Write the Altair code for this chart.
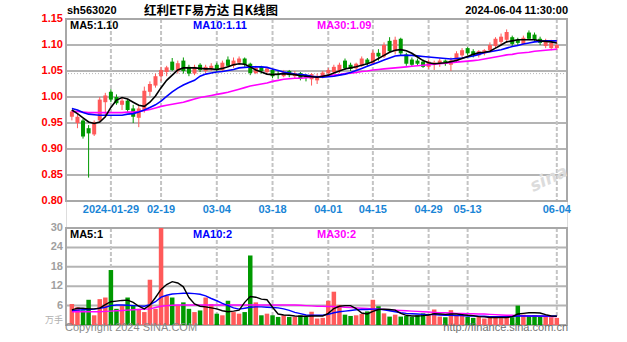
import altair as alt
import pandas as pd

# ---------------- data ----------------
dates = [
    "2024-01-18", "2024-01-19", "2024-01-22", "2024-01-23", "2024-01-24", "2024-01-25", "2024-01-26",
    "2024-01-29", "2024-01-30", "2024-01-31", "2024-02-01", "2024-02-02", "2024-02-05", "2024-02-06",
    "2024-02-07", "2024-02-08", "2024-02-19", "2024-02-20", "2024-02-21", "2024-02-22", "2024-02-23",
    "2024-02-26", "2024-02-27", "2024-02-28", "2024-02-29", "2024-03-01", "2024-03-04", "2024-03-05",
    "2024-03-06", "2024-03-07", "2024-03-08", "2024-03-11", "2024-03-12", "2024-03-13", "2024-03-14",
    "2024-03-15", "2024-03-18", "2024-03-19", "2024-03-20", "2024-03-21", "2024-03-22", "2024-03-25",
    "2024-03-26", "2024-03-27", "2024-03-28", "2024-03-29", "2024-04-01", "2024-04-02", "2024-04-03",
    "2024-04-08", "2024-04-09", "2024-04-10", "2024-04-11", "2024-04-12", "2024-04-15", "2024-04-16",
    "2024-04-17", "2024-04-18", "2024-04-19", "2024-04-22", "2024-04-23", "2024-04-24", "2024-04-25",
    "2024-04-26", "2024-04-29", "2024-04-30", "2024-05-06", "2024-05-07", "2024-05-08", "2024-05-09",
    "2024-05-10", "2024-05-13", "2024-05-14", "2024-05-15", "2024-05-16", "2024-05-17", "2024-05-20",
    "2024-05-21", "2024-05-22", "2024-05-23", "2024-05-24", "2024-05-27", "2024-05-28", "2024-05-29",
    "2024-05-30", "2024-05-31", "2024-06-03", "2024-06-04",
]

opens = [0.962, 0.950, 0.955, 0.940, 0.928, 0.955, 0.990, 1.010, 1.000, 0.985, 0.993, 0.978, 0.960, 0.975,
         1.010, 1.022, 1.040, 1.048, 1.068, 1.050, 1.070, 1.058, 1.045, 1.062, 1.050, 1.055, 1.062, 1.052,
         1.072, 1.060, 1.066, 1.074, 1.064, 1.046, 1.058, 1.048, 1.052, 1.044, 1.040, 1.050, 1.040, 1.046,
         1.040, 1.034, 1.032, 1.040, 1.046, 1.048, 1.050, 1.070, 1.062, 1.055, 1.060, 1.072, 1.064, 1.085,
         1.078, 1.108, 1.088, 1.112, 1.082, 1.072, 1.070, 1.068, 1.058, 1.062, 1.064, 1.070, 1.062, 1.070,
         1.080, 1.094, 1.088, 1.080, 1.084, 1.090, 1.098, 1.106, 1.110, 1.115, 1.110, 1.102, 1.124, 1.120,
         1.112, 1.098, 1.094, 1.094]
highs = [0.975, 0.968, 0.958, 0.946, 0.955, 1.000, 1.008, 1.015, 1.005, 0.998, 0.996, 0.985, 0.985, 1.020,
         1.030, 1.045, 1.058, 1.060, 1.075, 1.070, 1.076, 1.062, 1.062, 1.065, 1.062, 1.065, 1.066, 1.070,
         1.078, 1.076, 1.078, 1.076, 1.066, 1.060, 1.060, 1.058, 1.054, 1.050, 1.052, 1.052, 1.050, 1.048,
         1.044, 1.046, 1.045, 1.050, 1.056, 1.062, 1.066, 1.074, 1.066, 1.066, 1.078, 1.075, 1.090, 1.092,
         1.105, 1.115, 1.116, 1.114, 1.085, 1.076, 1.074, 1.072, 1.072, 1.070, 1.074, 1.072, 1.076, 1.088,
         1.094, 1.096, 1.092, 1.090, 1.092, 1.105, 1.115, 1.122, 1.130, 1.118, 1.114, 1.118, 1.128, 1.124,
         1.116, 1.112, 1.110, 1.108]
lows = [0.955, 0.940, 0.920, 0.845, 0.925, 0.952, 0.965, 0.990, 0.985, 0.975, 0.970, 0.950, 0.942, 0.970,
        1.002, 1.018, 1.030, 1.040, 1.050, 1.045, 1.045, 1.040, 1.042, 1.048, 1.046, 1.050, 1.048, 1.050,
        1.058, 1.056, 1.062, 1.058, 1.042, 1.044, 1.045, 1.044, 1.036, 1.035, 1.038, 1.038, 1.035, 1.032,
        1.030, 1.022, 1.025, 1.036, 1.042, 1.045, 1.046, 1.052, 1.050, 1.052, 1.058, 1.060, 1.062, 1.070,
        1.075, 1.085, 1.082, 1.080, 1.060, 1.058, 1.060, 1.056, 1.054, 1.052, 1.058, 1.060, 1.050, 1.066,
        1.076, 1.080, 1.076, 1.076, 1.080, 1.086, 1.094, 1.100, 1.104, 1.098, 1.100, 1.100, 1.110, 1.108,
        1.100, 1.094, 1.090, 1.090]
closes = [0.972, 0.962, 0.924, 0.930, 0.952, 0.995, 1.003, 0.995, 0.988, 0.993, 0.975, 0.962, 0.978, 1.012,
          1.025, 1.040, 1.052, 1.057, 1.052, 1.065, 1.050, 1.045, 1.058, 1.052, 1.058, 1.060, 1.052, 1.066,
          1.060, 1.070, 1.074, 1.062, 1.046, 1.056, 1.050, 1.055, 1.040, 1.042, 1.048, 1.042, 1.046, 1.036,
          1.038, 1.044, 1.040, 1.047, 1.052, 1.058, 1.062, 1.055, 1.054, 1.064, 1.074, 1.064, 1.085, 1.078,
          1.100, 1.088, 1.110, 1.084, 1.064, 1.062, 1.064, 1.058, 1.068, 1.066, 1.070, 1.064, 1.070, 1.084,
          1.090, 1.084, 1.080, 1.088, 1.090, 1.100, 1.112, 1.116, 1.125, 1.102, 1.104, 1.114, 1.112, 1.110,
          1.104, 1.106, 1.104, 1.100]

ma5 = [0.975, 0.968, 0.960, 0.952, 0.949, 0.952, 0.962, 0.980, 0.994, 0.999, 0.996, 0.990, 0.984, 0.982,
       0.990, 1.002, 1.018, 1.032, 1.042, 1.052, 1.056, 1.056, 1.056, 1.055, 1.054, 1.054, 1.053, 1.055,
       1.058, 1.062, 1.064, 1.063, 1.058, 1.052, 1.048, 1.044, 1.043, 1.044, 1.045, 1.044, 1.043, 1.041,
       1.040, 1.039, 1.038, 1.040, 1.042, 1.046, 1.050, 1.054, 1.056, 1.058, 1.061, 1.064, 1.068, 1.074,
       1.080, 1.086, 1.090, 1.091, 1.089, 1.084, 1.077, 1.070, 1.066, 1.064, 1.065, 1.066, 1.068, 1.070,
       1.074, 1.078, 1.082, 1.085, 1.086, 1.088, 1.094, 1.100, 1.106, 1.108, 1.110, 1.110, 1.110, 1.110,
       1.108, 1.107, 1.106, 1.104]
ma10 = [0.978, 0.975, 0.970, 0.967, 0.966, 0.965, 0.965, 0.965, 0.965, 0.965, 0.967, 0.968, 0.971, 0.975,
        0.980, 0.985, 0.992, 1.001, 1.010, 1.017, 1.023, 1.028, 1.032, 1.040, 1.044, 1.046, 1.048, 1.049,
        1.051, 1.053, 1.056, 1.057, 1.058, 1.058, 1.058, 1.057, 1.054, 1.051, 1.048, 1.046, 1.044, 1.043,
        1.042, 1.040, 1.039, 1.038, 1.039, 1.040, 1.042, 1.044, 1.047, 1.051, 1.055, 1.059, 1.063, 1.067,
        1.071, 1.075, 1.079, 1.080, 1.080, 1.080, 1.079, 1.078, 1.077, 1.076, 1.075, 1.074, 1.073, 1.074,
        1.075, 1.077, 1.079, 1.082, 1.085, 1.087, 1.089, 1.091, 1.094, 1.097, 1.099, 1.102, 1.104, 1.106,
        1.107, 1.108, 1.108, 1.108]
ma30 = [0.972, 0.972, 0.971, 0.970, 0.970, 0.970, 0.970, 0.970, 0.970, 0.970, 0.971, 0.971, 0.972, 0.974,
        0.976, 0.979, 0.982, 0.984, 0.986, 0.988, 0.990, 0.993, 0.996, 0.999, 1.001, 1.003, 1.005, 1.007,
        1.009, 1.012, 1.015, 1.018, 1.021, 1.023, 1.025, 1.027, 1.030, 1.032, 1.034, 1.035, 1.036, 1.036,
        1.037, 1.038, 1.039, 1.040, 1.041, 1.042, 1.043, 1.045, 1.046, 1.047, 1.049, 1.050, 1.052, 1.053,
        1.054, 1.055, 1.056, 1.057, 1.058, 1.059, 1.060, 1.061, 1.062, 1.063, 1.064, 1.065, 1.066, 1.067,
        1.068, 1.069, 1.070, 1.071, 1.073, 1.075, 1.077, 1.079, 1.081, 1.082, 1.084, 1.085, 1.086, 1.088,
        1.089, 1.090, 1.091, 1.092]

volume = [6.5, 5.5, 4.5, 7.8, 3.0, 8.0, 8.5, 17.0, 5.0, 6.0, 8.5, 6.0, 5.0, 4.0,
          14.0, 5.0, 36.0, 9.0, 8.5, 6.0, 7.0, 5.0, 4.0, 4.5, 8.5, 6.5, 3.5, 3.0,
          7.5, 4.0, 3.5, 4.0, 21.5, 7.0, 3.0, 3.5, 3.0, 2.5, 3.0, 2.5, 2.5, 3.0,
          2.5, 4.1, 2.0, 2.2, 7.5, 10.3, 6.2, 3.2, 2.8, 3.0, 3.4, 4.2, 7.8, 5.8,
          3.6, 2.6, 3.2, 2.6, 2.8, 2.5, 3.0, 3.6, 3.0, 4.8, 2.6, 2.4, 4.6, 2.8,
          3.0, 2.5, 2.2, 2.6, 2.0, 2.2, 2.4, 2.1, 2.6, 2.4, 6.0, 3.2, 2.8, 3.0,
          2.6, 2.6, 2.4, 2.2]
vma5 = [4.7, 5.2, 5.2, 5.0, 5.0, 5.2, 6.3, 7.2, 7.4, 7.6, 7.7, 7.0, 5.8, 5.0,
        6.2, 8.5, 11.0, 12.5, 13.4, 13.0, 11.8, 8.5, 6.5, 5.8, 5.6, 5.3, 5.0, 4.4,
        4.1, 4.3, 4.6, 7.0, 8.8, 8.6, 8.0, 7.8, 5.5, 3.4, 3.1, 3.0, 2.8, 2.7,
        2.7, 2.8, 2.8, 2.8, 3.6, 5.1, 5.8, 6.0, 6.0, 5.1, 3.7, 3.4, 4.2, 4.8,
        4.9, 4.8, 4.6, 3.6, 3.0, 2.8, 2.8, 2.9, 3.1, 3.5, 3.4, 3.3, 3.4, 3.4,
        3.2, 3.0, 2.9, 2.6, 2.5, 2.3, 2.3, 2.3, 2.3, 2.6, 3.4, 3.6, 3.8, 3.8,
        3.7, 3.2, 2.8, 2.7]
vma10 = [4.5, 4.6, 4.7, 4.8, 4.9, 5.2, 5.5, 6.0, 6.2, 6.2, 6.1, 6.0, 5.9, 5.8,
         6.3, 7.2, 8.6, 9.2, 9.6, 9.7, 9.8, 9.8, 9.7, 9.5, 9.0, 8.2, 7.5, 6.7,
         6.0, 5.3, 4.9, 5.2, 5.5, 5.6, 5.6, 5.5, 5.4, 5.3, 5.0, 4.5, 3.9, 3.5,
         3.1, 3.0, 3.0, 3.0, 3.3, 3.8, 4.1, 4.3, 4.5, 4.7, 4.8, 4.8, 4.9, 4.9,
         4.7, 4.4, 4.1, 3.8, 3.6, 3.5, 3.4, 3.3, 3.2, 3.2, 3.1, 3.0, 3.0, 2.9,
         2.9, 2.8, 2.8, 2.7, 2.7, 2.6, 2.6, 2.6, 2.6, 2.6, 2.8, 2.8, 2.8, 2.8,
         2.8, 2.8, 2.8, 2.8]
vma30 = [4.1, 4.1, 4.1, 4.1, 4.1, 4.1, 4.2, 4.3, 4.4, 4.5, 4.6, 4.7, 4.8, 4.9,
         5.0, 5.4, 5.8, 6.0, 6.1, 6.2, 6.2, 6.2, 6.2, 6.2, 6.2, 6.2, 6.2, 6.2,
         6.2, 6.2, 6.2, 6.2, 6.2, 6.2, 6.2, 6.2, 6.2, 6.2, 6.2, 6.2, 6.2, 6.1,
         6.0, 5.9, 5.8, 5.8, 5.7, 5.7, 5.6, 5.5, 5.4, 5.3, 5.2, 5.1, 5.0, 4.9,
         4.8, 4.7, 4.6, 4.5, 4.4, 4.3, 4.2, 4.1, 4.0, 3.9, 3.8, 3.8, 3.7, 3.6,
         3.6, 3.5, 3.5, 3.4, 3.4, 3.3, 3.2, 3.1, 3.0, 3.0, 2.9, 2.9, 2.8, 2.8,
         2.7, 2.7, 2.6, 2.6]

date_ticks = ["2024-01-29", "2024-02-19", "2024-03-04", "2024-03-18", "2024-04-01",
              "2024-04-15", "2024-04-29", "2024-05-13", "2024-06-04"]
date_tick_labels = ["2024-01-29", "02-19", "03-04", "03-18", "04-01", "04-15", "04-29", "05-13", "06-04"]
price_ticks = [1.15, 1.10, 1.05, 1.00, 0.95, 0.90, 0.85, 0.80]
price_tick_labels = ["1.15", "1.10", "1.05", "1.00", "0.95", "0.90", "0.85", "0.80"]
vol_ticks = [30, 24, 18, 12, 6]
vol_tick_labels = ["30", "24", "18", "12", "6"]

code_text = "sh563020"
title_text = "红利ETF易方达 日K线图"
time_text = "2024-06-04 11:30:00"
ma_labels = ["MA5:1.10", "MA10:1.11", "MA30:1.09"]
vma_labels = ["MA5:1", "MA10:2", "MA30:2"]
unit_text = "万手"
copyright_text = "Copyright 2024 SINA.COM"
url_text = "http://finance.sina.com.cn"
watermark_text = "sina"

# ---------------- layout constants ----------------
W, H = 501, 306
PH = 182            # price panel height
VT = 209            # volume panel top
RED = "#ff5a5a"
GREEN = "#009900"
GRID = "#b4b4b4"
FONT = "Liberation Sans"

n = len(dates)
df = pd.DataFrame({
    "idx": list(range(n)), "date": dates, "open": opens, "high": highs, "low": lows,
    "close": closes, "ma5": ma5, "ma10": ma10, "ma30": ma30,
    "vol": volume, "vma5": vma5, "vma10": vma10, "vma30": vma30,
})
df["dir"] = ["up" if c >= o else "down" for o, c in zip(opens, closes)]

xscale = alt.Scale(domain=[-0.158, 87.93], nice=False, zero=False)
pscale = alt.Scale(domain=[1.15 - H * 0.35 / PH, 1.15], nice=False, zero=False)
vscale = alt.Scale(domain=[0, 30 + VT * 30 / (H - VT)], nice=False, zero=False)
cscale = alt.Scale(domain=["up", "down"], range=[RED, GREEN])

X = alt.X("idx:Q", scale=xscale, axis=None)

ticks_df = pd.DataFrame({"idx": [dates.index(d) for d in date_ticks], "lab": date_tick_labels})
pt_df = pd.DataFrame({"v": price_ticks, "lab": price_tick_labels})
vt_df = pd.DataFrame({"v": vol_ticks, "lab": vol_tick_labels})
one = pd.DataFrame({"a": [0]})

# ---------------- price panel ----------------
p_hgrid = alt.Chart(pt_df).mark_rule(color=GRID, strokeWidth=2).encode(
    y=alt.Y("v:Q", scale=pscale, axis=None))
p_dot = alt.Chart(pd.DataFrame({"v": [1.045]})).mark_rule(
    color="#b8b8b8", strokeWidth=1, strokeDash=[1, 2]).encode(y=alt.Y("v:Q", scale=pscale, axis=None))
p_vgrid = alt.Chart(ticks_df).mark_rule(color="#c4c4c4", strokeWidth=2, strokeDash=[4, 2]).encode(
    x=alt.X("idx:Q", scale=xscale, axis=None), y=alt.value(0), y2=alt.value(PH))
p_border = alt.Chart(one).mark_rect(filled=False, stroke="#a8a8a8", strokeWidth=2).encode(
    x=alt.value(0), x2=alt.value(W), y=alt.value(0), y2=alt.value(PH))
watermark = alt.Chart(pd.DataFrame({"t": [watermark_text]})).mark_text(
    align="center", baseline="middle", font="DejaVu Sans", fontSize=17, fontWeight="bold",
    fontStyle="italic", angle=335, color="#dcdcdc").encode(
    x=alt.value(483), y=alt.value(160), text="t:N")
wick = alt.Chart(df).mark_rule(strokeWidth=1).encode(
    X, y=alt.Y("low:Q", scale=pscale, axis=None), y2="high:Q",
    color=alt.Color("dir:N", scale=cscale, legend=None))
body = alt.Chart(df).mark_bar(size=4).encode(
    X, y=alt.Y("open:Q", scale=pscale, axis=None), y2="close:Q",
    color=alt.Color("dir:N", scale=cscale, legend=None))
l30 = alt.Chart(df).mark_line(color="#ff00ff", strokeWidth=1.6).encode(X, y=alt.Y("ma30:Q", scale=pscale, axis=None))
l10 = alt.Chart(df).mark_line(color="#0000ff", strokeWidth=1.6).encode(X, y=alt.Y("ma10:Q", scale=pscale, axis=None))
l5 = alt.Chart(df).mark_line(color="#000000", strokeWidth=1.6).encode(X, y=alt.Y("ma5:Q", scale=pscale, axis=None))
p_ticklab = alt.Chart(pt_df).mark_text(align="right", baseline="middle", font=FONT, fontSize=11,
                                        fontWeight="bold", color="#ff0000").encode(
    x=alt.value(-3), y=alt.Y("v:Q", scale=pscale, axis=None), text="lab:N")
date_lab = alt.Chart(ticks_df).mark_text(align="center", baseline="middle", font=FONT, fontSize=11,
                                          fontWeight="bold", color="#1a85d6").encode(
    x=alt.X("idx:Q", scale=xscale, axis=None), y=alt.value(PH + 9), text="lab:N")

ma_cols = ["#000000", "#0000ff", "#ff00ff"]
ma_x = [4, 127, 251]
ma_txt = [alt.Chart(pd.DataFrame({"lab": [ma_labels[k]]})).mark_text(
    align="left", baseline="middle", font=FONT, fontSize=11, fontWeight="bold", color=ma_cols[k]).encode(
    x=alt.value(ma_x[k]), y=alt.value(7), text="lab:N") for k in range(3)]

price = alt.layer(p_hgrid, p_dot, p_vgrid, p_border, watermark, wick, body, l30, l10, l5,
                  p_ticklab, date_lab, *ma_txt)

# ---------------- volume panel ----------------
v_hgrid = alt.Chart(vt_df[vt_df.v < 30]).mark_rule(color=GRID, strokeWidth=2).encode(
    y=alt.Y("v:Q", scale=vscale, axis=None))
v_vgrid = alt.Chart(ticks_df).mark_rule(color="#c4c4c4", strokeWidth=2, strokeDash=[4, 2]).encode(
    x=alt.X("idx:Q", scale=xscale, axis=None), y=alt.value(VT), y2=alt.value(H))
v_border = alt.Chart(one).mark_rect(filled=False, stroke="#a8a8a8", strokeWidth=2).encode(
    x=alt.value(0), x2=alt.value(W), y=alt.value(VT), y2=alt.value(H))
vbar = alt.Chart(df).transform_calculate(vp="min(datum.vol, 30)").mark_bar(size=4.5).encode(
    X, y=alt.Y("vp:Q", scale=vscale, axis=None),
    color=alt.Color("dir:N", scale=cscale, legend=None))
vl30 = alt.Chart(df).mark_line(color="#ff00ff", strokeWidth=1.4).encode(X, y=alt.Y("vma30:Q", scale=vscale, axis=None))
vl10 = alt.Chart(df).mark_line(color="#0000ff", strokeWidth=1.4).encode(X, y=alt.Y("vma10:Q", scale=vscale, axis=None))
vl5 = alt.Chart(df).mark_line(color="#000000", strokeWidth=1.4).encode(X, y=alt.Y("vma5:Q", scale=vscale, axis=None))
v_ticklab = alt.Chart(vt_df).mark_text(align="right", baseline="middle", font=FONT, fontSize=11,
                                        fontWeight="bold", color="#a0a0a0").encode(
    x=alt.value(-3), y=alt.Y("v:Q", scale=vscale, axis=None), text="lab:N")
vma_txt = [alt.Chart(pd.DataFrame({"lab": [vma_labels[k]]})).mark_text(
    align="left", baseline="middle", font=FONT, fontSize=11, fontWeight="bold", color=ma_cols[k]).encode(
    x=alt.value(ma_x[k]), y=alt.value(VT + 7), text="lab:N") for k in range(3)]

volume_panel = alt.layer(v_hgrid, v_vgrid, v_border, vbar, vl30, vl10, vl5, v_ticklab, *vma_txt)

# ---------------- header / footer texts ----------------
def txt(s, x, y, align, size, weight, color, font=FONT):
    return alt.Chart(pd.DataFrame({"t": [s]})).mark_text(
        align=align, baseline="middle", font=font, fontSize=size, fontWeight=weight, color=color).encode(
        x=alt.value(x), y=alt.value(y), text="t:N")

texts = alt.layer(
    txt(code_text, 1, -8, "left", 11, "bold", "#000000"),
    txt(title_text, 145, -8, "center", 12.5, "bold", "#000000", "Noto Sans CJK SC"),
    txt(time_text, 502, -8, "right", 11, "bold", "#000000"),
    txt(unit_text, -3, 301, "right", 9, "normal", "#b0b0b0", "Noto Sans CJK SC"),
    txt(copyright_text, -1, 309, "left", 11, "normal", "#8a8a8a"),
    txt(url_text, 502, 309, "right", 11, "normal", "#707070"),
)

chart = alt.layer(price, volume_panel, texts).resolve_scale(y="independent").properties(
    width=W, height=H,
    autosize=alt.AutoSizeParams(type="none"),
    padding={"left": 66, "top": 19, "right": 60, "bottom": 17},
).configure_view(stroke=None).configure(background="white")

chart.save("out.html", embed_options={"renderer": "svg", "actions": False})
